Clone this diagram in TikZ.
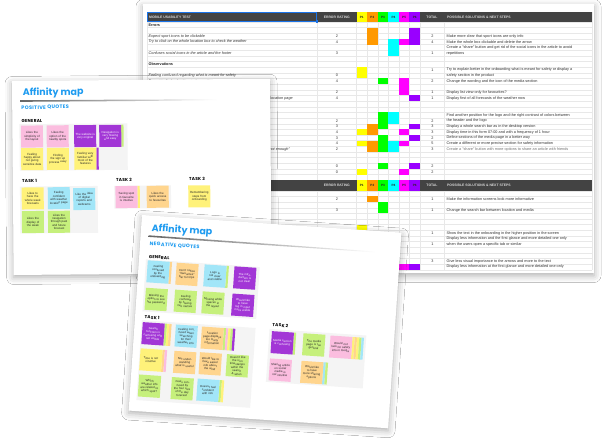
\documentclass[tikz,border=0pt]{standalone}
\usepackage{fontspec}
\setmainfont{Liberation Sans}
\newfontfamily\headfont{Poppins}
\usetikzlibrary{shadows.blur}
\definecolor{hdr}{HTML}{434343}
\definecolor{gridc}{HTML}{E8E8E8}
\definecolor{cP1}{HTML}{FFFF00}
\definecolor{cP2}{HTML}{FF9900}
\definecolor{cP3}{HTML}{00FF00}
\definecolor{cP4}{HTML}{00FFFF}
\definecolor{cP5}{HTML}{FF00FF}
\definecolor{cP6}{HTML}{9900FF}
\definecolor{selblue}{HTML}{1A73E8}
\definecolor{amblue}{HTML}{1E9BF0}
\definecolor{npink}{HTML}{FBBDDF}
\definecolor{npurple}{HTML}{A236D6}
\definecolor{nyellow}{HTML}{FFF27A}
\definecolor{ncyan}{HTML}{A2E6F8}
\definecolor{ngreen}{HTML}{C6F07C}
\definecolor{npeach}{HTML}{FFD58E}
\definecolor{groupbg}{HTML}{F4F4F4}
% row centres of the two table blocks
\newcommand\ry[1]{24.8+5.65*(#1)}
\newcommand\ly[1]{193.5+5.65*(#1)}
% participant cells: column, first row, last row, colour
\newcommand\pcell[4]{\fill[#4] ({356.5+10.58*(#1-1)},{21.95+5.65*(#2)}) rectangle ({356.5+10.58*(#1)},{21.95+5.65*(#3+1)});}
\newcommand\qcell[4]{\fill[#4] ({356.5+10.58*(#1-1)},{190.7+5.65*(#2)}) rectangle ({356.5+10.58*(#1)},{190.7+5.65*(#3+1)});}
% sticky note: name, x, y, colour, text
\newcommand\stick[5]{\node[sticky, fill=#4] (#1) at (#2,#3) {#5};}
\newcommand\pstick[4]{\node[sticky, fill=npurple, text=white] (#1) at (#2,#3) {#4};}
% edges of notes stacked behind: x, y, colours
\newcommand\stack[3]{\foreach \c [count=\i] in {#3} {\fill[\c] ({#1+11+2.3*(\i-1)},{#2-11}) rectangle ({#1+11+2.3*\i},{#2+11});}}
% header row of the table
\newcommand\headrow[2]{%
  \fill[hdr] (147,#1) rectangle (592,#2);
  \foreach \c [count=\i] in {cP1,cP2,cP3,cP4,cP5,cP6}
    {\fill[\c] ({356.5+10.58*(\i-1)},#1) rectangle ({356.5+10.58*\i},#2);}
}
\tikzset{
  sheet/.style={fill=white, blur shadow={shadow xshift=0pt, shadow yshift=-2.5pt, shadow blur radius=7pt, shadow opacity=32}},
  atxt/.style={anchor=west, inner sep=0, font=\fontsize{3.8}{4}\selectfont\itshape, text=black!80},
  btxt/.style={anchor=west, inner sep=0, font=\fontsize{3.8}{4}\selectfont\bfseries, text=black!85},
  num/.style={inner sep=0, font=\fontsize{3.8}{4}\selectfont, text=black!80},
  sol/.style={anchor=west, inner sep=0, font=\fontsize{3.8}{4}\selectfont, text=black!80},
  hd/.style={inner sep=0, font=\fontsize{3.4}{4}\selectfont\bfseries, text=white!85!black},
  ph/.style={inner sep=0, font=\fontsize{3.1}{4}\selectfont\bfseries, text=black!85},
  maptitle/.style={anchor=west, inner sep=0, text=amblue, font=\headfont\bfseries\fontsize{9.5}{10}\selectfont},
  quotehead/.style={anchor=west, inner sep=0, text=amblue, font=\headfont\bfseries\fontsize{5}{6}\selectfont\addfontfeature{LetterSpace=6}},
  grouphead/.style={anchor=west, inner sep=0, text=black, font=\headfont\bfseries\fontsize{4.3}{5}\selectfont\addfontfeature{LetterSpace=6}},
  sticky/.style={minimum width=22, minimum height=22, inner sep=0.5, text width=19.5, align=center, font=\fontsize{2.95}{3.35}\selectfont, text=black!85},
  grp/.style={fill=groupbg},
}
\begin{document}
\begin{tikzpicture}[x=1pt,y=-1pt]
\useasboundingbox (0,0) rectangle (604,440);
\fill[white] (0,0) rectangle (604,440);

% ---------------- usability test spreadsheet ----------------
\fill[sheet] (143,4) rectangle (594,273);
\foreach \k in {0,...,28} \draw[gridc, line width=0.3] (147,{21.95+5.65*\k}) -- (592,{21.95+5.65*\k});
\foreach \j in {0,...,14} \draw[gridc, line width=0.3] (147,{190.7+5.65*\j}) -- (592,{190.7+5.65*\j});
\foreach \x in {147,317,356.5,367.08,377.66,388.24,398.82,409.4,420,444,592}
  \draw[gridc, line width=0.3] (\x,12) -- (\x,269.8);

% participants' marks
\pcell{2}{1}{3}{cP2} \pcell{6}{1}{3}{cP6} \pcell{4}{3}{5}{cP4} \pcell{5}{3}{3}{cP5}
\pcell{1}{8}{9}{cP1} \pcell{3}{10}{10}{cP3} \pcell{5}{10}{12}{cP5} \pcell{6}{13}{13}{cP6}
\pcell{3}{16}{18}{cP3} \pcell{4}{16}{17}{cP4} \pcell{2}{18}{19}{cP2} \pcell{6}{18}{18}{cP6}
\pcell{1}{19}{19}{cP1} \pcell{5}{19}{19}{cP5} \pcell{3}{20}{22}{cP3} \pcell{6}{20}{20}{cP6}
\pcell{1}{21}{21}{cP1} \pcell{2}{21}{22}{cP2} \pcell{4}{21}{22}{cP4} \pcell{5}{21}{21}{cP5}
\pcell{3}{25}{25}{cP3} \pcell{6}{25}{25}{cP6} \pcell{1}{26}{26}{cP1} \pcell{5}{26}{26}{cP5}
\qcell{2}{1}{1}{cP2} \qcell{3}{2}{3}{cP3} \qcell{1}{6}{6}{cP1}
\qcell{5}{13}{13}{cP5} \qcell{6}{13}{13}{cP6}

% header rows
\headrow{12}{21.95}
\headrow{180.15}{190.7}
\draw[selblue, line width=0.7] (147.3,12.3) rectangle (316.8,21.7);
\fill[selblue] (315.5,20.4) rectangle (318.3,23.2);
\node[hd, anchor=west] (h1a) at (149,17) {MOBILE USABILITY TEST};
\foreach \y/\n in {17/h1, 185.4/h2} {
  \node[hd] (\n e) at (336.8,\y) {ERROR RATING};
  \foreach \i in {1,...,6} \node[ph, text=black!85] (\n p\i) at ({351.2+10.58*\i},\y) {P\i};
  \node[hd] (\n t) at (432,\y) {TOTAL};
  \node[hd, anchor=west] (\n s) at (447,\y) {POSSIBLE SOLUTIONS \& NEXT STEPS};
}

% observations column
\node[btxt] (a0) at (148.5,{\ry{0}}) {Errors};
\node[atxt] (a2) at (148.5,{\ry{2}}) {Expect sport icons to be clickable};
\node[atxt] (a3) at (148.5,{\ry{3}}) {Try to click on the whole location box to check the weather};
\node[atxt] (a5) at (148.5,{\ry{5}}) {Confuses social icons in the article and the footer};
\node[btxt] (a7) at (148.5,{\ry{7}}) {Observations};
\node[atxt] (a9) at (148.5,{\ry{9}}) {Feeling confused regarding what is meant for safety};
\node[atxt] (a10) at (148.5,{\ry{10}}) {Expect to find only cities in the media section};
\node[atxt, anchor=east] (a13) at (293,{\ry{13}}) {Expects to see the weather of the spot directly on the location page};
\node[atxt, anchor=east] (a22) at (290,{\ry{22}}) {Feels that the information about safety is "not enough"};

% error ratings
\foreach \k/\v in {2/2,3/4,5/3,9/0,10/4,12/2,13/4,17/2,18/3,19/4,20/3,21/4,22/2,25/0,26/0}
  \node[num] (r\k) at (337,{\ry{\k}}) {\v};
\node[num] (rb1) at (337,{\ly{1}}) {2};
\node[num] (rb3) at (337,{\ly{3}}) {3};

% totals
\foreach \k/\v in {2/2,3/4,5/1,8/1,10/2,12/1,13/1,17/2,18/3,19/3,20/2,21/5,22/3,25/2,26/2}
  \node[num] (t\k) at (432.3,{\ry{\k}}) {\v};
\foreach \j/\v in {1/1,3/1,7/1,9/1,12/3}
  \node[num] (tb\j) at (432.3,{\ly{\j}}) {\v};

% solutions and next steps
\node[sol] (s2) at (446.5,{\ry{2}}) {Make more clear that sport icons are only info};
\node[sol] (s3) at (446.5,{\ry{3}}) {Make the whole box clickable and delete the arrow};
\node[sol] (s4) at (446.5,{\ry{4}}) {Create a "share" button and get rid of the social icons in the article to avoid};
\node[sol] (s5) at (446.5,{\ry{5}}) {repetitions};
\node[sol] (s8) at (446.5,{\ry{8}}) {Try to explain better in the onboarding what is meant for safety or display a};
\node[sol] (s9) at (446.5,{\ry{9}}) {safety section in the product};
\node[sol] (s10) at (446.5,{\ry{10}}) {Change the wording and the icon of the media section};
\node[sol] (s12) at (446.5,{\ry{12}}) {Display list view only for favourites?};
\node[sol] (s13) at (446.5,{\ry{13}}) {Display first of all forecasts of the weather now};
\node[sol] (s16) at (446.5,{\ry{16}}) {Find another position for the logo and the right contrast of colors between};
\node[sol] (s17) at (446.5,{\ry{17}}) {the header and the logo};
\node[sol] (s18) at (446.5,{\ry{18}}) {Display a whole search bar as in the desktop version};
\node[sol] (s19) at (446.5,{\ry{19}}) {Display time in this form 07:00 and with a frequency of 1 hour};
\node[sol] (s20) at (446.5,{\ry{20}}) {Define sections of the media page in a better way};
\node[sol] (s21) at (446.5,{\ry{21}}) {Create a different or more precise section for safety information};
\node[sol, text=black!55] (s22) at (446.5,{\ry{22}}) {Create a "share" button with more options to share an article with friends};
\node[sol] (sb1) at (446.5,{\ly{1}}) {Make the information screens look more informative};
\node[sol] (sb3) at (446.5,{\ly{3}}) {Change the search bar between location and media};
\node[sol] (sb7) at (446.5,{\ly{7}}) {Show the text in the onboarding in the higher position in the screen};
\node[sol] (sb8) at (446.5,{\ly{8}}) {Display less information and the first glance and more detailed one only};
\node[sol] (sb9) at (446.5,{\ly{9}}) {when the users open a specific tab or similar};
\node[sol] (sb12) at (446.5,{\ly{12}}) {Give less visual importance to the arrows and more to the text};
\node[sol] (sb13) at (446.5,{\ly{13}}) {Display less information at the first glance and more detailed one only};

% ---------------- positive quotes board ----------------
\begin{scope}[shift={(12,81)}, rotate=0.5, transform shape]
  \fill[sheet] (0,0) rectangle (258,194);
  \node[maptitle] (ptitle) at (10.5,12) {Affinity map};
  \shade[left color=black!60, right color=white] (8,19.3) -- (110,19.6) -- (205,20.1) -- (205,20.9) -- (110,21.1) -- (8,20.9) -- cycle;
  \node[quotehead] (pq) at (9,26.8) {POSITIVE QUOTES};
  \node[grouphead] (pg) at (9,40) {GENERAL};
  \fill[grp] (7,43.3) rectangle (115,89.8);
  \stick{pa}{19.5}{55.7}{npink}{Likes the simplicity of the layout}
  \stick{pb}{45.2}{55.7}{npink}{Likes the option of the nearby spots}
  \pstick{pc}{72.7}{55.7}{The website is very original}
  \stack{97.8}{55.7}{ngreen}
  \pstick{pd}{97.8}{55.7}{Navigation is very flowing and easy}
  \stick{pe}{19.5}{78.3}{nyellow}{Feeling happy about not giving sensitive data}
  \stick{pf}{45.2}{78.3}{nyellow}{Finding the sign up process easy}
  \stack{72.7}{78.3}{npurple}
  \stick{pg1}{72.7}{78.3}{nyellow}{Feeling very familiar with most of the features}

  \node[grouphead] (pt1) at (9,99.7) {TASK 1};
  \node[grouphead] (pt2) at (103,99.7) {TASK 2};
  \node[grouphead] (pt3) at (176,99.3) {TASK 3};
  \fill[grp] (7,105.7) rectangle (84.7,152.5);
  \fill[grp] (101.3,105.7) rectangle (158,128.5);
  \stick{ph}{19.7}{117.6}{nyellow}{Likes to have the whole week forecasts}
  \stick{pi}{45.8}{117.6}{ncyan}{Feeling confident with weather location page}
  \stick{pj}{71.2}{118.6}{ncyan}{Like the idea of digital reports and webcams}
  \stick{pk}{19.7}{141.2}{ngreen}{Likes the display of the week}
  \stick{pl}{45.8}{141.2}{ngreen}{Likes the navigation through past and future forecast}
  \stack{113.5}{117}{nyellow}
  \stick{pm}{113.5}{117}{npink}{Saving spot in favourite is intuitive}
  \stick{pn}{144.7}{117}{npeach}{Likes the quick access to favourites}
  \stick{po}{186.3}{117}{nyellow}{Remembering steps from onboarding}
\end{scope}

% ---------------- negative quotes board ----------------
\begin{scope}[shift={(142,215)}, rotate=-3.9, transform shape]
  \fill[sheet] (0,0) rectangle (260,196);
  \node[maptitle] (ntitle) at (10.5,12.8) {Affinity map};
  \shade[left color=black!60, right color=white] (8,19.8) -- (120,20.1) -- (235,20.6) -- (235,21.4) -- (120,21.6) -- (8,21.4) -- cycle;
  \node[quotehead] (nq) at (9.5,28.4) {NEGATIVE QUOTES};
  \node[grouphead] (ng) at (9.5,41.2) {GENERAL};
  \fill[grp] (7,44) rectangle (121,96);
  \stack{19.9}{55.8}{npeach}
  \stick{na}{19.9}{55.8}{ncyan}{Feeling confused by the onboarding}
  \stick{nb}{48.9}{56.2}{npeach}{Don't notice "favourites" bar for trips}
  \stack{76.9}{56}{ngreen}
  \stick{nc}{76.9}{56}{ncyan}{Logo is not clear and visible}
  \pstick{nd}{106.8}{55.9}{The introduction is not clear}
  \stick{ne}{19.9}{83.3}{ngreen}{Missing the option to see the password}
  \stick{nf}{49.1}{83.2}{ngreen}{Feeling confused by having two names}
  \stick{ng1}{76.8}{83}{ngreen}{Missing white spaces in the layout}
  \pstick{nh}{106.7}{83.2}{Would like to have log in input more visible}

  \node[grouphead] (nt1) at (9.5,101.8) {TASK 1};
  \node[grouphead] (nt2) at (137.5,100.8) {TASK 2};
  \fill[grp] (7,105) rectangle (121,185);
  \fill[grp] (135,105) rectangle (232,158);
  \stack{19.1}{117.8}{ngreen,nyellow,npeach}
  \pstick{ni}{19.1}{117.8}{Search function is confusing and not visible}
  \stick{nj}{52.3}{117.9}{ncyan}{Feeling confused when searching for their weather info}
  \stack{78.4}{118.2}{ngreen,npink,nyellow,ngreen,npurple}
  \stick{nk}{78.4}{118.2}{npeach}{Location page displays too many information}
  \stack{18.7}{144.1}{npeach,npink}
  \stick{nl}{18.7}{144.1}{nyellow}{Time is not intuitive}
  \stick{nm}{52.6}{144.3}{npeach}{Not understanding what is useful}
  \stick{nn}{78.2}{143.9}{npeach}{Would like to have easier info about the wind}
  \stick{no}{105.3}{144}{ngreen}{Doesn't like the icon timestamps within the search \& when}
  \stick{np}{19.1}{170.3}{ngreen}{Which weather info are related to which spot?}
  \stick{nr}{51.9}{170.6}{ngreen}{Feels confused by the four size of the day forecast}
  \stack{77.7}{170.4}{ngreen,nyellow}
  \stick{ns}{77.7}{170.4}{ncyan}{Doesn't feel confident with info}
  \stack{148.6}{118}{ngreen}
  \pstick{nu}{148.6}{118}{Media section is confusing}
  \stick{nv}{180.2}{118}{ngreen}{The media page is too general}
  \stack{207.3}{118.4}{nyellow,npeach,nyellow,ngreen,ncyan}
  \stick{nw}{207.3}{118.4}{npink}{Would not look for safety info in media}
  \stick{nx}{148.5}{145.4}{npink}{Sharing article on social media is not intuitive}
  \stack{180.1}{145.6}{ncyan,ngreen}
  \stick{ny}{180.1}{145.6}{npeach}{Would like to have more sharing options}
\end{scope}
\end{tikzpicture}
\end{document}
